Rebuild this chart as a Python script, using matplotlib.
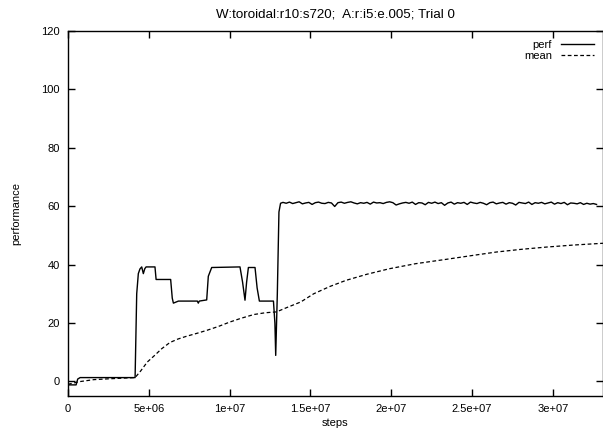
import matplotlib
matplotlib.use('Agg')
import matplotlib.pyplot as plt
import matplotlib.ticker as tic
import numpy as np

# perf: step-wise learning phase (steps in millions)
perf_x_early = [0, 0.5, 0.6, 0.75, 4.15, 4.25, 4.35, 4.45, 4.56, 4.66, 4.75, 4.83, 5.38,
                5.45, 6.35, 6.45, 6.52, 6.83, 8.0, 8.06, 8.12, 8.58, 8.68, 8.89, 10.64,
                10.8, 10.95, 11.05, 11.16, 11.57, 11.7, 11.84, 12.71, 12.8, 12.85, 12.95,
                13.05, 13.15]
perf_y_early = [-1.2, -1.2, 0.8, 1.3, 1.3, 30.0, 36.9, 38.5, 39.2, 36.9, 38.6, 39.2, 39.2,
                34.9, 34.9, 28.5, 26.8, 27.5, 27.5, 26.8, 27.5, 27.9, 36.0, 39.0, 39.2,
                34.0, 27.8, 34.0, 39.0, 39.0, 32.0, 27.5, 27.5, 20.0, 8.9, 30.0,
                58.0, 61.0]

# perf: converged plateau, sampled every 0.2e6 steps from 13.3e6
perf_y_late = [61.3, 61.0, 61.4, 60.9, 61.2, 61.5, 60.8, 61.1, 61.3, 60.6,
               61.2, 61.4, 61.0, 60.9, 61.3, 61.1, 59.9, 61.2, 61.4, 61.0,
               61.3, 61.5, 61.1, 60.8, 61.2, 61.0, 61.3, 60.7, 61.4, 61.1,
               61.2, 60.9, 61.3, 61.5, 61.2, 60.4, 60.8, 61.1, 61.3, 61.0,
               61.4, 60.6, 61.2, 61.1, 60.5, 61.3, 61.0, 61.4, 60.9, 61.2,
               60.3, 61.1, 61.4, 60.7, 61.2, 61.0, 61.3, 60.6, 61.4, 61.1,
               60.9, 61.3, 61.0, 60.5, 61.2, 61.4, 60.8, 61.1, 61.3, 60.7,
               61.2, 61.0, 60.4, 61.3, 61.1, 60.9, 61.4, 60.6, 61.2, 61.0,
               61.3, 60.8, 61.1, 61.4, 60.7, 61.2, 60.9, 61.3, 60.5, 61.1,
               61.0, 60.8, 61.2, 60.6, 61.0, 60.7, 60.9, 60.6]
perf_x_late = 13.3 + 0.2 * np.arange(len(perf_y_late))

# running mean
mean_x = [0, 0.7, 1.6, 2.6, 4.15, 4.5, 4.9, 5.3, 5.8, 6.3, 6.8, 7.3, 8.0, 8.6, 9.3, 10.0,
          10.7, 11.5, 12.2, 12.9, 13.5, 14.4, 15.2, 16.2, 17.2, 18.5, 19.9, 21.5, 23.4,
          25.0, 26.5, 28.0, 29.6, 31.3, 33.1]
mean_y = [-1.0, -0.1, 0.6, 0.9, 1.3, 3.6, 6.6, 8.6, 11.2, 13.3, 14.5, 15.4, 16.5, 17.5,
          18.8, 20.3, 21.6, 22.9, 23.5, 23.8, 25.2, 27.2, 30.0, 32.5, 34.6, 36.7, 38.6,
          40.3, 41.8, 43.1, 44.3, 45.2, 46.0, 46.7, 47.3]

perf_x = np.concatenate([perf_x_early, perf_x_late]) * 1e6
perf_y = np.concatenate([perf_y_early, perf_y_late])
mean_x = np.array(mean_x) * 1e6

plt.rcParams['font.family'] = ['Liberation Sans', 'DejaVu Sans']
plt.rcParams['font.size'] = 8

fig = plt.figure(figsize=(6.03, 4.34), dpi=100)
ax = fig.add_axes([0.1128, 0.0876, 0.8872, 0.841])

ax.plot(perf_x, perf_y, color='black', linewidth=1.0, label='perf')
ax.plot(mean_x, mean_y, color='black', linewidth=0.9, linestyle=(0, (3, 2)), label='mean')

ax.set_xlim(0, mean_x[-1])
ax.set_ylim(-5, 120)
ax.xaxis.set_major_locator(tic.MultipleLocator(5e6))
ax.yaxis.set_major_locator(tic.MultipleLocator(20))
ax.xaxis.set_major_formatter(tic.FuncFormatter(lambda v, p: '%g' % v))
ax.tick_params(direction='in', length=5, width=1, top=True, right=True, pad=6)

for s in ax.spines.values():
    s.set_linewidth(1.0)

ax.set_xlabel('steps', labelpad=3)
ax.set_ylabel('performance', labelpad=14)
ax.set_title('W:toroidal:r10:s720;  A:r:i5:e.005; Trial 0', pad=10)

ax.legend(loc='upper right', frameon=False, markerfirst=False, handlelength=3.0,
          labelspacing=0.1, borderaxespad=0.4, handletextpad=0.8)

fig.savefig('out.png', dpi=100)
